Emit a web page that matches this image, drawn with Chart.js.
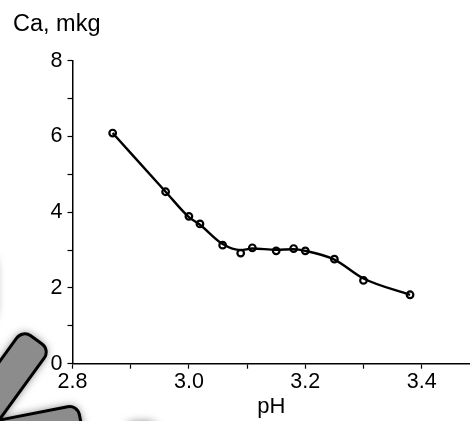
<!DOCTYPE html>
<html>
<head>
<meta charset="utf-8">
<script src="https://cdn.jsdelivr.net/npm/chart.js@4.4.1/dist/chart.umd.min.js"></script>
<style>
  html, body { margin: 0; padding: 0; background: #fff; }
</style>
</head>
<body>
<canvas id="chart" width="470" height="421"></canvas>
<script>
// measured points (pH, Ca)
const phValues = [2.869, 2.96, 3.0, 3.019, 3.058, 3.089, 3.109, 3.15, 3.18, 3.2, 3.25, 3.3, 3.38];
const caValues = [6.09, 4.54, 3.89, 3.69, 3.13, 2.92, 3.06, 2.98, 3.04, 2.98, 2.76, 2.20, 1.82];
// smoothed curve at the same pH values
const curveValues = [6.09, 4.54, 3.87, 3.67, 3.16, 3.0, 3.04, 3.01, 3.02, 2.98, 2.75, 2.25, 1.82];

const xTicks = [2.8, 2.9, 3.0, 3.1, 3.2, 3.3, 3.4];
const xTickLabels = ['2.8', '', '3.0', '', '3.2', '', '3.4'];
const yTicks = [0, 1, 2, 3, 4, 5, 6, 7, 8];
const yTickLabels = ['0', '', '2', '', '4', '', '6', '', '8'];

const FONT = "'Liberation Sans', Arial, sans-serif";

// grey rounded "petals" in the lower left corner (background decoration)
const petals = [
  { cx: -40, cy: 445, angle: -54, r0: -10, r1: 130, w: 34 },
  { cx: -40, cy: 445, angle: -11, r0: -10, r1: 123, w: 34 },
  { cx: -20, cy: 445, angle: -90, r0: 125, r1: 190, w: 30 },
  { cx: -40, cy: 445, angle: -2, r0: 165, r1: 198, w: 32 }
];

const decoration = {
  id: 'decoration',
  beforeDraw(chart) {
    const ctx = chart.ctx;
    petals.forEach(p => {
      ctx.save();
      ctx.translate(p.cx, p.cy);
      ctx.rotate(p.angle * Math.PI / 180);
      ctx.beginPath();
      ctx.roundRect(p.r0, -p.w / 2, p.r1 - p.r0, p.w, 10);
      ctx.shadowColor = 'rgba(0,0,0,0.6)';
      ctx.shadowBlur = 10;
      ctx.fillStyle = '#8c8c8c';
      ctx.fill();
      ctx.shadowBlur = 0;
      ctx.lineWidth = 3;
      ctx.strokeStyle = '#000';
      ctx.stroke();
      ctx.restore();
    });
  }
};

const ctx = document.getElementById('chart').getContext('2d');
new Chart(ctx, {
  type: 'scatter',
  data: {
    datasets: [
      {
        label: 'curve',
        data: phValues.map((x, i) => ({ x: x, y: curveValues[i] })),
        showLine: true,
        borderColor: '#000',
        borderWidth: 2.4,
        cubicInterpolationMode: 'monotone',
        pointRadius: 0
      },
      {
        label: 'Ca',
        data: phValues.map((x, i) => ({ x: x, y: caValues[i] })),
        showLine: false,
        pointRadius: 3.3,
        pointBorderWidth: 2.2,
        pointBorderColor: '#000',
        pointBackgroundColor: '#fff'
      }
    ]
  },
  options: {
    responsive: false,
    animation: false,
    devicePixelRatio: 1,
    layout: { autoPadding: false, padding: { left: 13, top: 0, right: 0, bottom: 0 } },
    plugins: {
      legend: { display: false },
      tooltip: { enabled: false },
      title: {
        display: true,
        text: 'Ca, mkg',
        align: 'start',
        color: '#000',
        font: { family: FONT, size: 23.5, weight: 'normal' },
        padding: { top: 10, bottom: 22.5 }
      }
    },
    scales: {
      x: {
        type: 'linear',
        min: 2.8,
        max: 3.483,
        afterBuildTicks: s => { s.ticks = xTicks.map(v => ({ value: v })); },
        afterFit: s => { s.height = 57.3; s.paddingRight = 0; s.paddingLeft = 0; },
        border: { color: '#000', width: 1.5 },
        grid: { drawOnChartArea: false, color: '#000', tickLength: 5, tickWidth: 1.2 },
        ticks: {
          color: '#000',
          padding: 0,
          maxRotation: 0,
          autoSkip: false,
          font: { family: FONT, size: 21.5 },
          callback: (v, i) => xTickLabels[i]
        },
        title: {
          display: true,
          text: 'pH',
          color: '#000',
          font: { family: FONT, size: 22 },
          padding: { top: 0, bottom: 1 }
        }
      },
      y: {
        min: 0,
        max: 8,
        afterBuildTicks: s => { s.ticks = yTicks.map(v => ({ value: v })); },
        afterFit: s => { s.width = 59.5; s.paddingTop = 0; s.paddingBottom = 0; },
        border: { color: '#000', width: 1.5 },
        grid: { drawOnChartArea: false, color: '#000', tickLength: 5, tickWidth: 1.2 },
        ticks: {
          color: '#000',
          padding: 5,
          autoSkip: false,
          font: { family: FONT, size: 21.5 },
          callback: (v, i) => yTickLabels[i]
        }
      }
    }
  },
  plugins: [decoration]
});
</script>
</body>
</html>
